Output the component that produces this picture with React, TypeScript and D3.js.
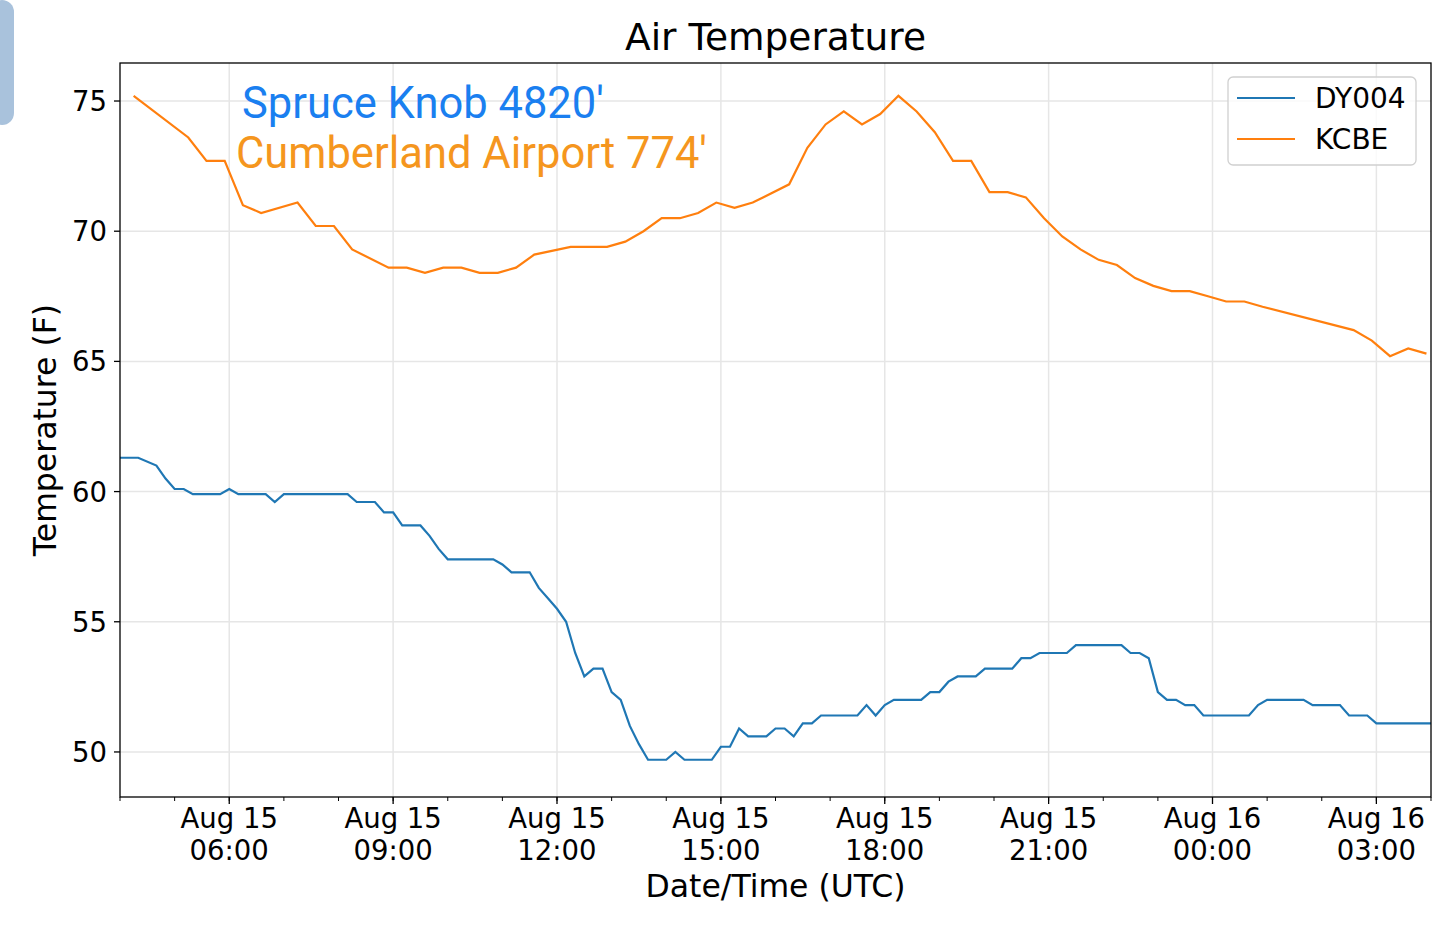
import React from 'react';
import * as d3 from 'd3';

// minutes after Aug 15 04:00 UTC, temperature (F)
const dy004: [number, number][] = [
  [0, 61.3], [20, 61.3], [40, 61.0], [50, 60.5], [60, 60.1], [70, 60.1], [80, 59.9], [110, 59.9], [120, 60.1],
  [130, 59.9], [160, 59.9], [170, 59.6], [180, 59.9], [250, 59.9], [260, 59.6], [280, 59.6], [290, 59.2], [300, 59.2],
  [310, 58.7], [330, 58.7], [340, 58.3], [350, 57.8], [360, 57.4], [410, 57.4], [420, 57.2], [430, 56.9], [450, 56.9],
  [460, 56.3], [470, 55.9], [480, 55.5], [490, 55.0], [500, 53.8], [510, 52.9], [520, 53.2], [530, 53.2], [540, 52.3],
  [550, 52.0], [560, 51.0], [570, 50.3], [580, 49.7], [600, 49.7], [610, 50.0], [620, 49.7], [650, 49.7], [660, 50.2],
  [670, 50.2], [680, 50.9], [690, 50.6], [710, 50.6], [720, 50.9], [730, 50.9], [740, 50.6], [750, 51.1], [760, 51.1],
  [770, 51.4], [810, 51.4], [820, 51.8], [830, 51.4], [840, 51.8], [850, 52.0], [880, 52.0], [890, 52.3], [900, 52.3],
  [910, 52.7], [920, 52.9], [940, 52.9], [950, 53.2], [980, 53.2], [990, 53.6], [1000, 53.6], [1010, 53.8], [1040, 53.8],
  [1050, 54.1], [1100, 54.1], [1110, 53.8], [1120, 53.8], [1130, 53.6], [1140, 52.3], [1150, 52.0], [1160, 52.0],
  [1170, 51.8], [1180, 51.8], [1190, 51.4], [1240, 51.4], [1250, 51.8], [1260, 52.0], [1300, 52.0], [1310, 51.8],
  [1340, 51.8], [1350, 51.4], [1370, 51.4], [1380, 51.1], [1440, 51.1],
];

const kcbe: [number, number][] = [
  [15, 75.2], [75, 73.6], [95, 72.7], [115, 72.7], [135, 71.0], [155, 70.7], [195, 71.1], [215, 70.2], [235, 70.2],
  [255, 69.3], [295, 68.6], [315, 68.6], [335, 68.4], [355, 68.6], [375, 68.6], [395, 68.4], [415, 68.4], [435, 68.6],
  [455, 69.1], [495, 69.4], [535, 69.4], [555, 69.6], [575, 70.0], [595, 70.5], [615, 70.5], [635, 70.7], [655, 71.1],
  [675, 70.9], [695, 71.1], [735, 71.8], [755, 73.2], [775, 74.1], [795, 74.6], [815, 74.1], [835, 74.5], [855, 75.2],
  [875, 74.6], [895, 73.8], [915, 72.7], [935, 72.7], [955, 71.5], [975, 71.5], [995, 71.3], [1015, 70.5], [1035, 69.8],
  [1055, 69.3], [1075, 68.9], [1095, 68.7], [1115, 68.2], [1135, 67.9], [1155, 67.7], [1175, 67.7], [1195, 67.5],
  [1215, 67.3], [1235, 67.3], [1255, 67.1], [1355, 66.2], [1375, 65.8], [1395, 65.2], [1415, 65.5], [1435, 65.3],
];

const yTicks = [50, 55, 60, 65, 70, 75];
const xTickMinutes = [120, 300, 480, 660, 840, 1020, 1200, 1380];
const xTickLabels = [
  ['Aug 15', '06:00'], ['Aug 15', '09:00'], ['Aug 15', '12:00'], ['Aug 15', '15:00'],
  ['Aug 15', '18:00'], ['Aug 15', '21:00'], ['Aug 16', '00:00'], ['Aug 16', '03:00'],
];
const minorMinutes = d3.range(0, 1441, 60);

const series = [
  { name: 'DY004', data: dy004, color: '#1f77b4' },
  { name: 'KCBE', data: kcbe, color: '#ff7f0e' },
];

const L = 120, R = 1431, T = 63, B = 797;
const font = 'DejaVu Sans, sans-serif';

export default function App() {
  const x = d3.scaleLinear().domain([0, 1440]).range([L, R]);
  const y = d3.scaleLinear().domain([48.27, 76.46]).range([B, T]);
  const line = d3.line<[number, number]>().x((d) => x(d[0])).y((d) => y(d[1]));

  return (
    <svg width={1440} height={929} style={{ position: 'absolute', left: 0, top: 0, background: '#fff' }}>
      <rect x={-10} y={0} width={24} height={125} rx={12} fill="#a9c2dc" />
      {xTickMinutes.map((m) => (
        <line key={'gx' + m} x1={x(m)} x2={x(m)} y1={T} y2={B} stroke="#e6e6e6" strokeWidth={1.5} />
      ))}
      {yTicks.map((v) => (
        <line key={'gy' + v} x1={L} x2={R} y1={y(v)} y2={y(v)} stroke="#e6e6e6" strokeWidth={1.5} />
      ))}
      {series.map((s) => (
        <path key={s.name} d={line(s.data) ?? ''} fill="none" stroke={s.color} strokeWidth={2.2} />
      ))}
      <rect x={L} y={T} width={R - L} height={B - T} fill="none" stroke="#000" strokeWidth={1.3} />
      {yTicks.map((v) => (
        <g key={'ty' + v}>
          <line x1={L - 6} x2={L} y1={y(v)} y2={y(v)} stroke="#000" strokeWidth={1.3} />
          <text x={L - 13} y={y(v) + 10} textAnchor="end" fontFamily={font} fontSize={27.5}>{v}</text>
        </g>
      ))}
      {minorMinutes.map((m) => (
        <line key={'mn' + m} x1={x(m)} x2={x(m)} y1={B} y2={B + 4} stroke="#000" strokeWidth={1} />
      ))}
      {xTickMinutes.map((m, i) => (
        <g key={'tx' + m}>
          <line x1={x(m)} x2={x(m)} y1={B} y2={B + 7} stroke="#000" strokeWidth={1.3} />
          <text x={x(m)} y={B + 31} textAnchor="middle" fontFamily={font} fontSize={27.5}>{xTickLabels[i][0]}</text>
          <text x={x(m)} y={B + 63} textAnchor="middle" fontFamily={font} fontSize={27.5}>{xTickLabels[i][1]}</text>
        </g>
      ))}
      <text x={(L + R) / 2} y={50} textAnchor="middle" fontFamily={font} fontSize={37.5}>Air Temperature</text>
      <text x={(L + R) / 2} y={897} textAnchor="middle" fontFamily={font} fontSize={31.5}>Date/Time (UTC)</text>
      <text transform={`translate(56,${(T + B) / 2}) rotate(-90)`} textAnchor="middle" fontFamily={font} fontSize={31.5}>Temperature (F)</text>
      <text x={242} y={118} fontFamily="Roboto, sans-serif" fontSize={43.5} fill="#1a7ff0">Spruce Knob 4820'</text>
      <text x={236} y={168} fontFamily="Roboto, sans-serif" fontSize={43.5} fill="#f5961e">Cumberland Airport 774'</text>
      <rect x={1228} y={77} width={188} height={88} rx={5} fill="#fff" fillOpacity={0.8} stroke="#d0d0d0" strokeWidth={1.3} />
      {series.map((s, i) => (
        <g key={'lg' + s.name}>
          <line x1={1237} x2={1295} y1={98 + i * 41} y2={98 + i * 41} stroke={s.color} strokeWidth={2.2} />
          <text x={1315} y={108 + i * 41} fontFamily={font} fontSize={28}>{s.name}</text>
        </g>
      ))}
    </svg>
  );
}
